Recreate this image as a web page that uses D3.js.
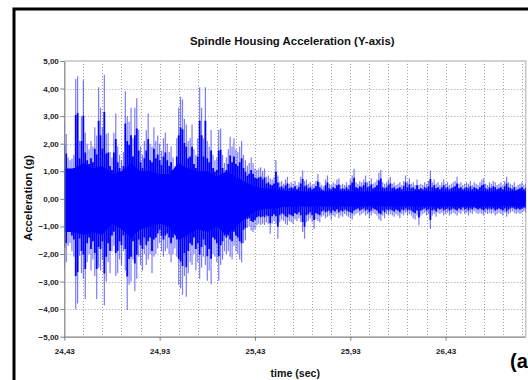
<!DOCTYPE html>
<html>
<head>
<meta charset="utf-8">
<script src="https://cdn.jsdelivr.net/npm/d3@7"></script>
<style>
  html, body { margin: 0; padding: 0; background: #fff; }
  svg { display: block; }
  text { font-family: "Liberation Sans", Arial, sans-serif; }
</style>
</head>
<body>
<svg id="chart" width="528" height="380"></svg>
<script>
// ---------------- data ----------------
const title = "Spindle Housing Acceleration (Y-axis)";
const xLabel = "time (sec)";
const yLabel = "Acceleration (g)";
const panelLabel = "(a)";
const xTickValues = [24.43, 24.93, 25.43, 25.93, 26.43];
const yTickValues = [-5, -4, -3, -2, -1, 0, 1, 2, 3, 4, 5];
const xDomain = [24.43, 26.85];
const yDomain = [-5, 5];

// signal envelope, sampled every 0.01 s starting at 24.43 s
const sampleStart = 24.43;
const sampleStep = 0.01;
const peakHigh = [
2.8,2.35,1.5,1.4,1.45,1.6,4.35,4.45,2.1,3.0,
4.3,2.4,2.0,1.8,2.1,1.9,2.6,2.3,4.05,3.3,
2.6,4.5,2.35,2.4,1.7,1.5,2.4,3.1,1.9,1.6,
1.4,1.7,3.9,3.0,2.8,3.3,2.2,3.3,3.65,2.5,
1.9,1.6,2.1,2.5,3.1,2.0,1.9,2.6,2.1,2.3,
2.0,1.75,2.2,2.4,2.0,1.7,1.9,1.5,1.2,2.2,
3.3,3.7,3.6,2.9,2.7,2.1,2.2,2.7,1.8,1.6,
2.2,4.05,3.3,2.2,4.05,2.1,1.9,2.5,1.6,1.4,
1.5,2.5,2.55,1.6,1.3,1.5,1.8,2.25,1.9,2.2,
1.8,1.7,1.9,2.1,1.6,1.4,1.2,1.3,1.5,1.3,
1.1,1.05,1.1,1.15,1.0,1.1,0.8,0.85,0.75,0.7,
0.8,1.41,0.85,0.6,0.65,0.55,0.7,0.8,0.55,0.6,
0.55,0.65,0.5,0.6,0.8,1.03,0.65,0.7,0.55,0.6,
0.5,0.55,0.65,0.9,0.6,0.5,0.45,0.7,0.85,0.55,
0.5,0.6,0.55,0.7,0.75,0.5,0.55,0.5,0.6,0.5,
0.7,0.85,1.09,0.6,0.55,0.65,0.6,0.7,0.85,0.6,
0.65,0.75,0.55,0.6,0.7,0.95,1.05,0.6,0.55,0.6,
0.7,0.8,0.55,0.6,0.5,0.55,0.6,0.5,0.65,0.85,
0.6,0.75,0.55,0.6,0.5,0.7,0.5,0.55,0.5,0.6,
0.55,0.65,1.03,0.6,0.7,0.55,0.6,0.5,0.6,0.7,
0.55,0.6,0.5,0.55,0.6,0.65,0.8,0.55,0.6,0.5,
0.55,0.6,0.55,0.65,0.5,0.6,0.55,0.5,0.6,0.7,
0.75,0.55,0.5,0.6,0.55,0.65,0.6,0.5,0.55,0.6,
0.5,0.65,0.8,0.6,0.55,0.5,0.6,0.45,0.5,0.55,
0.6,0.5,0.55
];
const peakLow = [
-2.54,-2.3,-1.7,-1.6,-1.9,-2.1,-4.0,-3.8,-2.06,-2.7,
-2.9,-3.63,-2.3,-2.0,-2.6,-2.2,-2.8,-3.63,-2.5,-2.6,
-2.2,-3.87,-3.0,-2.3,-2.7,-1.9,-1.7,-2.8,-2.7,-2.2,
-2.4,-1.9,-2.6,-4.03,-3.12,-3.0,-2.2,-3.35,-2.9,-2.1,
-2.4,-2.6,-2.0,-2.4,-2.2,-2.0,-2.7,-2.1,-2.0,-1.8,
-1.6,-1.9,-2.1,-1.9,-1.8,-2.0,-2.3,-2.0,-1.8,-2.1,
-3.12,-3.24,-3.48,-2.8,-3.55,-2.7,-2.3,-2.4,-2.0,-2.6,
-2.3,-2.9,-2.5,-2.1,-2.4,-2.97,-2.6,-3.1,-2.0,-2.1,
-2.3,-2.97,-2.4,-2.2,-1.9,-2.0,-1.9,-2.1,-2.2,-1.7,
-1.9,-2.0,-2.2,-2.3,-1.6,-1.5,-1.05,-1.0,-1.15,-1.2,
-1.1,-0.95,-0.9,-0.95,-0.9,-0.95,-0.85,-0.9,-1.27,-0.9,
-0.8,-0.9,-1.45,-0.85,-0.75,-0.8,-0.9,-0.95,-0.8,-0.85,
-0.9,-0.75,-0.8,-0.7,-0.85,-1.2,-1.45,-0.85,-0.8,-0.7,
-0.85,-1.09,-0.75,-0.8,-0.85,-0.65,-0.6,-0.7,-0.65,-0.6,
-0.75,-0.6,-0.65,-0.55,-0.7,-0.6,-0.65,-0.55,-0.6,-0.65,
-0.7,-0.75,-0.6,-0.55,-0.5,-0.6,-0.55,-0.5,-0.6,-0.55,
-0.7,-0.6,-0.5,-0.55,-0.6,-0.75,-0.8,-0.6,-0.7,-0.55,
-0.6,-0.55,-0.6,-0.65,-0.55,-0.6,-0.7,-0.55,-0.6,-0.5,
-0.6,-0.55,-0.6,-0.7,-0.75,-0.6,-0.96,-0.6,-0.55,-0.5,
-0.6,-0.55,-1.09,-0.6,-0.55,-0.65,-0.5,-0.55,-0.5,-0.6,
-0.55,-0.5,-0.6,-0.55,-0.5,-0.55,-0.6,-0.5,-0.55,-0.45,
-0.55,-0.5,-0.6,-0.5,-0.55,-0.45,-0.5,-0.55,-0.5,-0.55,
-0.6,-0.5,-0.55,-0.5,-0.55,-0.5,-0.6,-0.55,-0.5,-0.55,
-0.6,-0.5,-0.65,-0.55,-0.5,-0.45,-0.5,-0.55,-0.5,-0.55,
-0.5,-0.45,-0.5
];

// solid underlying band of the signal, sampled every 0.05 s starting at 24.43 s
const coreStep = 0.05;
const coreHigh = [
1.1,1.1,1.3,1.1,1.2,0.9,1.0,1.3,1.0,1.0,
0.9,0.9,1.3,1.1,1.0,1.0,0.8,1.0,0.8,0.6,
0.45,0.38,0.35,0.3,0.28,0.28,0.27,0.28,0.28,0.28,
0.28,0.27,0.28,0.28,0.28,0.27,0.28,0.28,0.28,0.28,
0.27,0.28,0.28,0.28,0.28,0.27,0.28,0.28,0.28,0.28
];
const coreLow = [
-1.2,-1.2,-1.3,-1.2,-1.3,-0.9,-1.1,-1.4,-1.1,-1.0,
-0.9,-1.0,-1.5,-1.3,-1.1,-1.2,-1.0,-1.3,-1.0,-0.7,
-0.45,-0.38,-0.35,-0.3,-0.28,-0.28,-0.28,-0.27,-0.28,-0.28,
-0.28,-0.28,-0.27,-0.28,-0.28,-0.28,-0.27,-0.28,-0.28,-0.28,
-0.28,-0.27,-0.28,-0.28,-0.28,-0.28,-0.27,-0.28,-0.28,-0.28
];

// ---------------- drawing ----------------
const svg = d3.select("#chart");
const plot = { left: 64.3, right: 525.7, top: 61, bottom: 336.7 };

const x = d3.scaleLinear().domain(xDomain).range([plot.left, plot.right]);
const y = d3.scaleLinear().domain(yDomain).range([plot.bottom, plot.top]);

const locale = d3.formatLocale({ decimal: ",", thousands: ".", grouping: [3], currency: ["", ""] });
const fmt = locale.format(".2f");

// outer frame (cut off on right/bottom)
svg.append("path")
  .attr("d", "M14,380 V9 H528")
  .attr("fill", "none").attr("stroke", "#000").attr("stroke-width", 3);

// clip
svg.append("clipPath").attr("id", "clip")
  .append("rect").attr("x", plot.left).attr("y", plot.top)
  .attr("width", plot.right - plot.left).attr("height", plot.bottom - plot.top);

// grid
const grid = svg.append("g").attr("stroke", "#a0a0a0").attr("stroke-width", 1)
  .attr("stroke-dasharray", "1,2");
const vGrid = d3.range(1, 25).map(k => xDomain[0] + k * 0.1);
grid.selectAll(".vg").data(vGrid).join("line")
  .attr("x1", d => Math.round(x(d)) + 0.5).attr("x2", d => Math.round(x(d)) + 0.5)
  .attr("y1", plot.top).attr("y2", plot.bottom);
grid.selectAll(".hg").data(yTickValues.filter(v => v > yDomain[0] && v < yDomain[1])).join("line")
  .attr("x1", plot.left).attr("x2", plot.right)
  .attr("y1", d => Math.round(y(d)) + 0.5).attr("y2", d => Math.round(y(d)) + 0.5);

// plot border top/right
svg.append("path")
  .attr("d", `M${plot.left},${plot.top} H${plot.right} V${plot.bottom}`)
  .attr("fill", "none").attr("stroke", "#c4c4c4").attr("stroke-width", 1.5);

// signal
const sig = svg.append("g").attr("clip-path", "url(#clip)");
const samples = peakHigh.map((h, i) => ({ t: sampleStart + i * sampleStep, hi: h, lo: peakLow[i] }));
const core = coreHigh.map((h, i) => ({ t: sampleStart + i * coreStep, hi: h, lo: coreLow[i] }));

// light full-length spikes
sig.selectAll(".spike").data(samples).join("line")
  .attr("x1", d => x(d.t)).attr("x2", d => x(d.t))
  .attr("y1", d => y(d.hi)).attr("y2", d => y(d.lo))
  .attr("stroke", "#0000ff").attr("stroke-opacity", 0.52).attr("stroke-width", 1.2);

// solid band
const area = d3.area().x(d => x(d.t)).y0(d => y(d.lo)).y1(d => y(d.hi));
sig.append("path").datum(core).attr("d", area).attr("fill", "#0000ff");

// saturated inner part of each spike
sig.selectAll(".spike2").data(samples).join("line")
  .attr("x1", d => x(d.t)).attr("x2", d => x(d.t))
  .attr("y1", d => y(d.hi * 0.7)).attr("y2", d => y(d.lo * 0.7))
  .attr("stroke", "#0000ff").attr("stroke-width", 1.8);

// axes
const yAxis = d3.axisLeft(y).tickValues(yTickValues).tickFormat(fmt).tickSize(4).tickSizeOuter(0);
const gy = svg.append("g").attr("transform", `translate(${plot.left},0)`).call(yAxis);
const xAxis = d3.axisBottom(x).tickValues(xTickValues).tickFormat(fmt).tickSize(4).tickSizeOuter(0);
const gx = svg.append("g").attr("transform", `translate(0,${plot.bottom})`).call(xAxis);

[gy, gx].forEach(g => {
  g.select(".domain").attr("stroke", "#808080").attr("stroke-width", 1.2);
  g.selectAll(".tick line").attr("stroke", "#808080");
  g.selectAll(".tick text").attr("fill", "#222").attr("font-size", "8px")
    .attr("font-weight", "bold").attr("font-family", "'Liberation Sans', Arial, sans-serif");
});
gy.selectAll(".tick text").attr("x", -5.5);
gx.selectAll(".tick text").attr("y", 12);
gx.select(".domain").attr("d", `M${plot.left},0.5H${plot.right}`);

// titles
svg.append("text").attr("x", 292.3).attr("y", 44.7).attr("text-anchor", "middle")
  .attr("font-size", "11.4px").attr("font-weight", "bold").attr("fill", "#111").text(title);
svg.append("text").attr("x", 295.3).attr("y", 376.5).attr("text-anchor", "middle")
  .attr("font-size", "10.6px").attr("font-weight", "bold").attr("fill", "#111").text(xLabel);
svg.append("text").attr("transform", "translate(31.5,198) rotate(-90)").attr("text-anchor", "middle")
  .attr("font-size", "11.4px").attr("font-weight", "bold").attr("fill", "#111").text(yLabel);
svg.append("text").attr("x", 510).attr("y", 367.5)
  .attr("font-family", "'Liberation Serif', 'Times New Roman', serif")
  .attr("font-size", "20px").attr("font-weight", "bold").attr("fill", "#000").text(panelLabel);
</script>
</body>
</html>
